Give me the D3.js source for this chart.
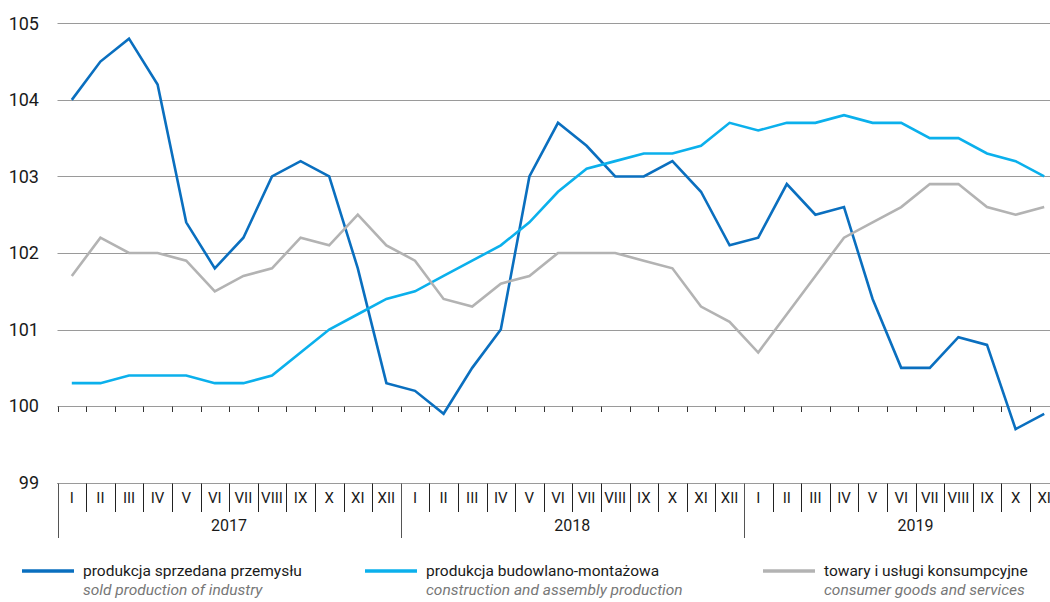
<!DOCTYPE html>
<html><head><meta charset="utf-8">
<script src="https://cdn.jsdelivr.net/npm/d3@7"></script>
<style>body{margin:0;background:#fff}svg{display:block}text{font-family:Roboto,"Noto Sans",sans-serif}</style>
</head><body><svg id="c" width="1050" height="602"></svg>
<script>
const years = ["2017","2018","2019"];
const monthNames = ["I","II","III","IV","V","VI","VII","VIII","IX","X","XI","XII"];
const monthsCount = 35;
const yTicks = [99,100,101,102,103,104,105];
const industry = [104.0,104.5,104.8,104.2,102.4,101.8,102.2,103.0,103.2,103.0,101.8,100.3,
  100.2,99.9,100.5,101.0,103.0,103.7,103.4,103.0,103.0,103.2,102.8,102.1,
  102.2,102.9,102.5,102.6,101.4,100.5,100.5,100.9,100.8,99.7,99.9];
const construction = [100.3,100.3,100.4,100.4,100.4,100.3,100.3,100.4,100.7,101.0,101.2,101.4,
  101.5,101.7,101.9,102.1,102.4,102.8,103.1,103.2,103.3,103.3,103.4,103.7,
  103.6,103.7,103.7,103.8,103.7,103.7,103.5,103.5,103.3,103.2,103.0];
const consumer = [101.7,102.2,102.0,102.0,101.9,101.5,101.7,101.8,102.2,102.1,102.5,102.1,
  101.9,101.4,101.3,101.6,101.7,102.0,102.0,102.0,101.9,101.8,101.3,101.1,
  100.7,101.2,101.7,102.2,102.4,102.6,102.9,102.9,102.6,102.5,102.6];
const seriesNames = ["produkcja sprzedana przemysłu","produkcja budowlano-montażowa","towary i usługi konsumpcyjne"];
const seriesNamesEn = ["sold production of industry","construction and assembly production","consumer goods and services"];

const colors = ["#0a6fbf","#0bb0ec","#b3b3b3"];
const svg = d3.select("#c");
const idx = d3.range(monthsCount);
const x = d3.scaleBand().domain(idx).range([57.5, 57.5 + 35*28.6]);
const y = d3.scaleLinear().domain([99,105]).range([482.7,23.3]);
const W = 1050;

// gridlines
svg.append("g").selectAll("line").data(yTicks.filter(t=>t>99)).join("line")
  .attr("x1",57.5).attr("x2",W).attr("y1",d=>Math.round(y(d))+0.5).attr("y2",d=>Math.round(y(d))+0.5)
  .attr("stroke","#9a9a9a").attr("stroke-width",1);
// small ticks on 100 line
svg.append("g").selectAll("line").data(d3.range(monthsCount+1)).join("line")
  .attr("x1",d=>Math.round(x(0)+d*x.step())+0.5).attr("x2",d=>Math.round(x(0)+d*x.step())+0.5)
  .attr("y1",Math.round(y(100))+0.5).attr("y2",Math.round(y(100))+6)
  .attr("stroke","#333").attr("stroke-width",1);

// y labels
svg.append("g").selectAll("text").data(yTicks).join("text")
  .attr("x",39).attr("y",d=>y(d)).attr("dy","0.35em").attr("text-anchor","end")
  .attr("font-size",18).attr("fill","#1a1a1a").text(d=>d);

// x axis box
const axTop = Math.round(y(99))+0.5;
svg.append("line").attr("x1",57).attr("x2",W).attr("y1",axTop).attr("y2",axTop).attr("stroke","#9a9a9a");
const ax = svg.append("g");
idx.forEach(i=>{
  const xl = Math.round(x(i))+0.5;
  const isYear = i%12===0;
  ax.append("line").attr("x1",xl).attr("x2",xl).attr("y1",axTop).attr("y2",isYear?538:512)
    .attr("stroke",isYear?"#555":"#222").attr("stroke-width",1);
  ax.append("text").attr("x",x(i)+x.bandwidth()/2).attr("y",498).attr("dy","0.35em")
    .attr("text-anchor","middle").attr("font-size",15).attr("fill","#1a1a1a").text(monthNames[i%12]);
});
years.forEach((yr,k)=>{
  const cx = x(k*12) + 6*x.step();
  ax.append("text").attr("x",cx).attr("y",525).attr("dy","0.35em")
    .attr("text-anchor","middle").attr("font-size",16).attr("fill","#1a1a1a").text(yr);
});

// lines
const line = d3.line().x((d,i)=>x(i)+x.bandwidth()/2).y(d=>y(d));
[industry,construction,consumer].forEach((s,k)=>{
  svg.append("path").datum(s).attr("d",line).attr("fill","none")
    .attr("stroke",colors[k]).attr("stroke-width",2.6).attr("stroke-linejoin","miter");
});

// legend
const legX = [22,365,763];
const leg = svg.append("g");
seriesNames.forEach((n,k)=>{
  leg.append("line").attr("x1",legX[k]).attr("x2",legX[k]+52).attr("y1",571).attr("y2",571)
    .attr("stroke",colors[k]).attr("stroke-width",3.5);
  leg.append("text").attr("x",legX[k]+61).attr("y",571).attr("dy","0.35em")
    .attr("font-size",15.5).attr("fill","#1a1a1a").text(n);
  leg.append("text").attr("x",legX[k]+61).attr("y",590).attr("dy","0.35em")
    .attr("font-size",15.5).attr("font-style","italic").attr("fill","#777").text(seriesNamesEn[k]);
});
</script></body></html>
